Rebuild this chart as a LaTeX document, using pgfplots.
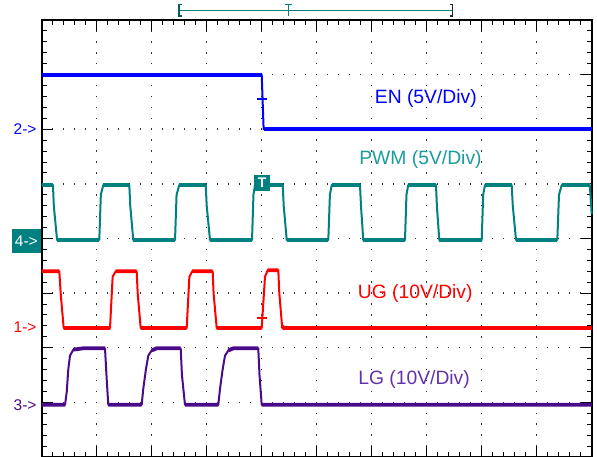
\documentclass[border=0pt]{standalone}
\usepackage{fontspec}
\setmainfont{Liberation Sans}
\usepackage{pgfplots}
\pgfplotsset{compat=1.18}
\definecolor{enc}{HTML}{0000FF}
\definecolor{pwmc}{HTML}{008080}
\definecolor{pwmtxt}{HTML}{1A9C9C}
\definecolor{ugc}{HTML}{FF0000}
\definecolor{lgc}{HTML}{4B0A8A}
\definecolor{lgtxt}{HTML}{6432A8}
\newcommand{\lab}{\fontsize{19.3pt}{22pt}\selectfont}
\newcommand{\chn}{\fontsize{15.5pt}{17pt}\selectfont}

\begin{document}
\begin{tikzpicture}
\begin{axis}[
    name=ax,
    scale only axis,
    width=550pt, height=437pt,
    xmin=0, xmax=10, ymin=0, ymax=8,
    xtick={0,...,10}, ytick={0,...,8},
    xticklabels={}, yticklabels={},
    minor x tick num=4, minor y tick num=4,
    tick align=inside, tick pos=both,
    major tick length=11pt, minor tick length=5pt,
    tick style={black, line width=1pt},
    axis line style={black, line width=1.8pt},
    grid=major,
    x grid style={black!80, line width=1.5pt, dash pattern=on 1.5pt off 9.425pt, dash phase=0.75pt},
    y grid style={black!80, line width=1.5pt, dash pattern=on 1.5pt off 9.5pt, dash phase=0.75pt},
    clip=false,
    unbounded coords=jump,
    every axis plot/.append style={line width=2pt, line join=round},
    flat/.style={line width=3.8pt, line cap=butt}
]
% EN
\addplot[enc] coordinates {(0,7.0) (4.0,7.0) (4.035,6.0) (10,6.0)};
\addplot[enc, flat] coordinates {(0,7.0) (4.0,7.0) (nan,nan) (4.035,6.0) (10,6.0)};
% PWM
\addplot[pwmc] coordinates {
(0,4.98) (0.205,4.98) (0.22,4.6) (0.28,3.97)
(1.047,3.97) (1.075,4.8) (1.12,4.98)
(1.593,4.98) (1.61,4.6) (1.665,3.97)
(2.424,3.97) (2.452,4.8) (2.502,4.98)
(2.982,4.98) (3.0,4.6) (3.06,3.97)
(3.824,3.97) (3.85,4.8) (3.878,4.98)
(4.382,4.98) (4.40,4.6) (4.455,3.97)
(5.211,3.97) (5.24,4.8) (5.273,4.98)
(5.787,4.98) (5.805,4.6) (5.847,3.97)
(6.605,3.97) (6.632,4.8) (6.665,4.98)
(7.169,4.98) (7.185,4.6) (7.229,3.97)
(8.0,3.97) (8.027,4.8) (8.06,4.98)
(8.545,4.98) (8.565,4.6) (8.624,3.97)
(9.375,3.97) (9.405,4.8) (9.455,4.98)
(9.965,4.98) (10,4.45)};
\addplot[pwmc, flat] coordinates {
(0,4.98) (0.205,4.98) (nan,nan) (0.28,3.97) (1.047,3.97) (nan,nan)
(1.12,4.98) (1.593,4.98) (nan,nan) (1.665,3.97) (2.424,3.97) (nan,nan)
(2.502,4.98) (2.982,4.98) (nan,nan) (3.06,3.97) (3.824,3.97) (nan,nan)
(3.878,4.98) (4.382,4.98) (nan,nan) (4.455,3.97) (5.211,3.97) (nan,nan)
(5.273,4.98) (5.787,4.98) (nan,nan) (5.847,3.97) (6.605,3.97) (nan,nan)
(6.665,4.98) (7.169,4.98) (nan,nan) (7.229,3.97) (8.0,3.97) (nan,nan)
(8.06,4.98) (8.545,4.98) (nan,nan) (8.624,3.97) (9.375,3.97) (nan,nan)
(9.455,4.98) (9.965,4.98)};
% UG
\addplot[ugc] coordinates {
(0,3.40) (0.32,3.40) (0.345,3.0) (0.40,2.36)
(1.242,2.36) (1.29,3.30) (1.345,3.40)
(1.727,3.40) (1.745,3.0) (1.80,2.36)
(2.636,2.36) (2.685,3.30) (2.737,3.40)
(3.109,3.40) (3.125,3.0) (3.182,2.36)
(4.0,2.36) (4.06,3.30) (4.109,3.42)
(4.302,3.42) (4.32,3.0) (4.37,2.40) (4.40,2.36)
(10,2.36)};
\addplot[ugc, flat] coordinates {
(0,3.40) (0.32,3.40) (nan,nan) (0.40,2.36) (1.242,2.36) (nan,nan)
(1.345,3.40) (1.727,3.40) (nan,nan) (1.80,2.36) (2.636,2.36) (nan,nan)
(2.737,3.40) (3.109,3.40) (nan,nan) (3.182,2.36) (4.0,2.36) (nan,nan)
(4.109,3.42) (4.302,3.42) (nan,nan) (4.37,2.40) (4.40,2.36) (10,2.36)};
% LG
\addplot[lgc] coordinates {
(0,0.955) (0.424,0.955) (0.455,1.19) (0.484,1.61) (0.515,1.856) (0.575,1.965) (0.756,1.99)
(1.151,1.99) (1.182,1.42) (1.211,0.955)
(1.818,0.955) (1.847,1.25) (1.896,1.61) (1.938,1.856) (2.0,1.95) (2.091,1.99)
(2.527,1.99) (2.55,1.5) (2.605,0.955)
(3.211,0.955) (3.242,1.25) (3.291,1.61) (3.333,1.856) (3.393,1.95) (3.484,1.99)
(3.938,1.99) (3.96,1.5) (4.0,0.955)
(10,0.955)};
\addplot[lgc, flat] coordinates {
(0,0.955) (0.424,0.955) (nan,nan) (0.575,1.965) (0.756,1.99) (1.151,1.99) (nan,nan)
(1.211,0.955) (1.818,0.955) (nan,nan) (2.0,1.95) (2.091,1.99) (2.527,1.99) (nan,nan)
(2.605,0.955) (3.211,0.955) (nan,nan) (3.393,1.95) (3.484,1.99) (3.938,1.99) (nan,nan)
(4.0,0.955) (10,0.955)};
% cursor marks
\draw[enc, line width=1.5pt] (axis cs:3.91,6.55) -- (axis cs:4.09,6.55);
\draw[ugc, line width=1.5pt] (axis cs:3.91,2.54) -- (axis cs:4.09,2.54);
\node[fill=pwmc, text=white, minimum width=16pt, minimum height=16pt, inner sep=0pt,
      font=\fontsize{14pt}{14pt}\selectfont\bfseries] at (axis cs:4.007,5.013) {T};
% trace labels
\node[text=enc, font=\lab] at (axis cs:6.984,6.56) {EN (5V/Div)};
\node[text=pwmtxt, font=\lab] at (axis cs:6.887,5.45) {PWM (5V/Div)};
\node[text=ugc, font=\lab] at (axis cs:6.791,3.0) {UG (10V/Div)};
\node[text=lgtxt, font=\lab] at (axis cs:6.77,1.41) {LG (10V/Div)};
% channel markers
\node[anchor=east, inner sep=0pt, text=enc, font=\chn] at (axis cs:-0.09,6.0) {2->};
\node[fill=pwmc, text=white, minimum width=29.3pt, minimum height=24.3pt, inner sep=0pt, font=\chn]
     at (axis cs:-0.279,3.95) {4->};
\node[anchor=east, inner sep=0pt, text=ugc, font=\chn] at (axis cs:-0.09,2.38) {1->};
\node[anchor=east, inner sep=0pt, text=lgc, font=\chn] at (axis cs:-0.09,0.95) {3->};
% trigger bracket
\draw[pwmc, line width=1.3pt] (axis cs:2.495,8.175) -- (axis cs:7.473,8.175);
\draw[pwmc!70!black, line width=1.5pt] (axis cs:2.55,8.285) -- (axis cs:2.495,8.285) -- (axis cs:2.495,8.07) -- (axis cs:2.55,8.07);
\draw[black!85, line width=1.5pt] (axis cs:7.418,8.285) -- (axis cs:7.473,8.285) -- (axis cs:7.473,8.07) -- (axis cs:7.418,8.07);
\draw[pwmc, line width=1.3pt] (axis cs:4.42,8.285) -- (axis cs:4.545,8.285) (axis cs:4.484,8.285) -- (axis cs:4.484,8.07);
\end{axis}
\pgfresetboundingbox
\path[use as bounding box] ([xshift=-41.7pt]ax.south west) rectangle ([xshift=5.3pt,yshift=20pt]ax.north east);
\end{tikzpicture}
\end{document}
